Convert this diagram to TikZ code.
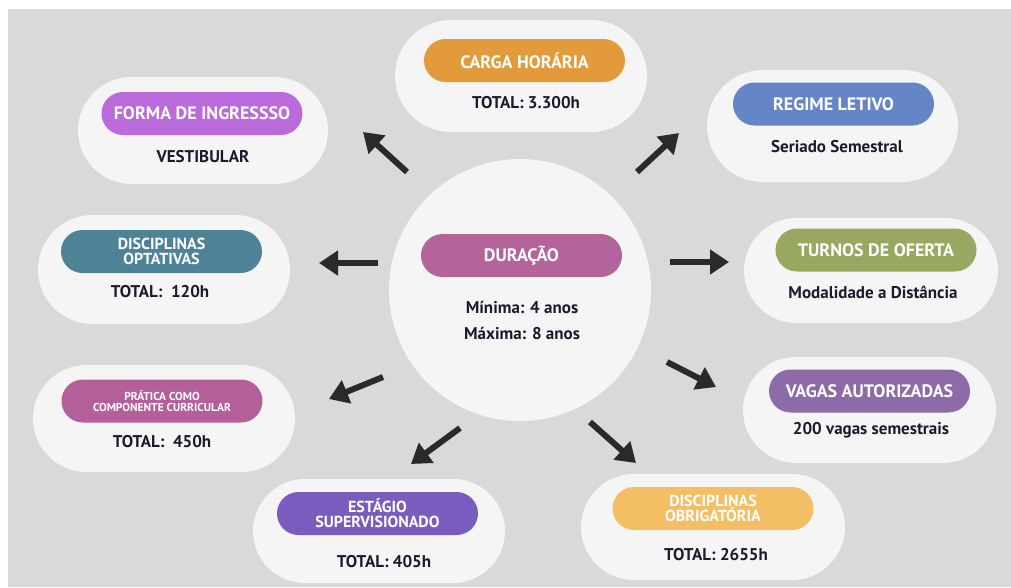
\documentclass[tikz,border=0pt]{standalone}
\usepackage{fontspec}
\setmainfont{PT Sans}
\usetikzlibrary{arrows.meta,shapes.misc}
\definecolor{bgc}{HTML}{D9D9D9}
\definecolor{bubblec}{HTML}{F5F5F5}
\definecolor{ink}{HTML}{1B1B30}
\definecolor{arrowc}{HTML}{2A2A2A}
\definecolor{cforma}{HTML}{BA6ADB}
\definecolor{ccarga}{HTML}{E29A3B}
\definecolor{cregime}{HTML}{6585C9}
\definecolor{coptat}{HTML}{4E8397}
\definecolor{cturnos}{HTML}{98A860}
\definecolor{cdur}{HTML}{B4649B}
\definecolor{cprat}{HTML}{B45F99}
\definecolor{cvagas}{HTML}{8C6BA8}
\definecolor{cestag}{HTML}{7A5CBF}
\definecolor{cobrig}{HTML}{F3BE64}
\begin{document}
\begin{tikzpicture}[x=1pt,y=-1pt,
  bubble/.style={rounded rectangle, fill=bubblec, inner sep=0pt},
  pill/.style={rounded rectangle, inner sep=0pt, minimum width=201pt, minimum height=43pt,
    text=white, align=center, font=\bfseries\fontsize{18}{18}\selectfont},
  pilltwo/.style={pill, font=\bfseries\fontsize{16}{15}\selectfont},
  pillsmall/.style={pill, font=\bfseries\fontsize{11.5}{10.5}\selectfont},
  info/.style={text=ink, inner sep=0pt, align=center, font=\bfseries\fontsize{17}{26}\selectfont},
  conn/.style={line width=6pt, draw=arrowc, -{Triangle[width=24pt,length=19pt]}}]
\useasboundingbox (0,0) rectangle (1011,587);
\fill[white] (0,0) rectangle (1011,587);
\fill[bgc] (8,9) rectangle (1011,587);

% center circle
\node[circle, fill=bubblec, minimum size=262pt, inner sep=0pt] (center) at (520,290) {};
\node[pill, fill=cdur] (durpill) at (521.5,255.5) {DURAÇÃO};
\node[info] (durtxt) at (522,320) {Mínima: 4 anos\\Máxima: 8 anos};

% Forma de ingresso
\node[bubble, minimum width=250pt, minimum height=107pt] (forma) at (203,130.5) {};
\node[pill, fill=cforma] (formapill) at (202,113.5) {FORMA DE INGRESSSO};
\node[info] (formatxt) at (203,157) {VESTIBULAR};

% Carga horaria
\node[bubble, minimum width=252pt, minimum height=112pt] (carga) at (521,76) {};
\node[pill, fill=ccarga] (cargapill) at (524.5,60.5) {CARGA HORÁRIA};
\node[info] (cargatxt) at (526,103) {TOTAL: 3.300h};

% Regime letivo
\node[bubble, minimum width=251pt, minimum height=112pt] (regime) at (832.5,126) {};
\node[pill, fill=cregime] (regimepill) at (833.5,104) {REGIME LETIVO};
\node[info] (regimetxt) at (837,147) {Seriado Semestral};

% Disciplinas optativas
\node[bubble, minimum width=252pt, minimum height=109pt] (optat) at (164,269.5) {};
\node[pilltwo, fill=coptat] (optatpill) at (161.5,251.5) {DISCIPLINAS\\OPTATIVAS};
\node[info] (optattxt) at (160,292) {TOTAL:\ \ 120h};

% Turnos de oferta
\node[bubble, minimum width=254pt, minimum height=105pt] (turnos) at (871,270.5) {};
\node[pill, fill=cturnos] (turnospill) at (876,250) {TURNOS DE OFERTA};
\node[info] (turnostxt) at (873,292) {Modalidade a Distância};

% Pratica como componente curricular
\node[bubble, minimum width=262pt, minimum height=107pt] (prat) at (164,418.5) {};
\node[pillsmall, fill=cprat] (pratpill) at (162,401) {PRÁTICA COMO\\COMPONENTE CURRICULAR};
\node[info] (prattxt) at (162,442) {TOTAL:\ \ 450h};

% Vagas autorizadas
\node[bubble, minimum width=253pt, minimum height=106pt] (vagas) at (869.5,410) {};
\node[pill, fill=cvagas] (vagaspill) at (869.5,391) {VAGAS AUTORIZADAS};
\node[info] (vagastxt) at (871,430) {200 vagas semestrais};

% Disciplinas obrigatoria
\node[bubble, minimum width=264pt, minimum height=106pt] (obrig) at (713,527) {};
\node[pilltwo, fill=cobrig] (obrigpill) at (713,508.5) {DISCIPLINAS\\OBRIGATÓRIA};
\node[info] (obrigtxt) at (716,555) {TOTAL: 2655h};

% Estagio supervisionado
\node[bubble, minimum width=252pt, minimum height=104pt] (estag) at (379,531) {};
\node[pilltwo, fill=cestag] (estagpill) at (377.5,513.5) {ESTÁGIO\\SUPERVISIONADO};
\node[info] (estagtxt) at (384,562) {TOTAL: 405h};

% arrows
\coordinate (a1s) at (407,172); \coordinate (a1e) at (363,132);
\coordinate (a2s) at (637,172); \coordinate (a2e) at (679,133);
\coordinate (a3s) at (378,263); \coordinate (a3e) at (319,263);
\coordinate (a4s) at (670,262); \coordinate (a4e) at (729,262);
\coordinate (a5s) at (383,377); \coordinate (a5e) at (329,399);
\coordinate (a6s) at (667,362); \coordinate (a6e) at (716,387);
\coordinate (a7s) at (460,428); \coordinate (a7e) at (411,464);
\coordinate (a8s) at (590,422); \coordinate (a8e) at (636,463);
\draw[conn] (a1s) -- (a1e);
\draw[conn] (a2s) -- (a2e);
\draw[conn] (a3s) -- (a3e);
\draw[conn] (a4s) -- (a4e);
\draw[conn] (a5s) -- (a5e);
\draw[conn] (a6s) -- (a6e);
\draw[conn] (a7s) -- (a7e);
\draw[conn] (a8s) -- (a8e);
\end{tikzpicture}
\end{document}
